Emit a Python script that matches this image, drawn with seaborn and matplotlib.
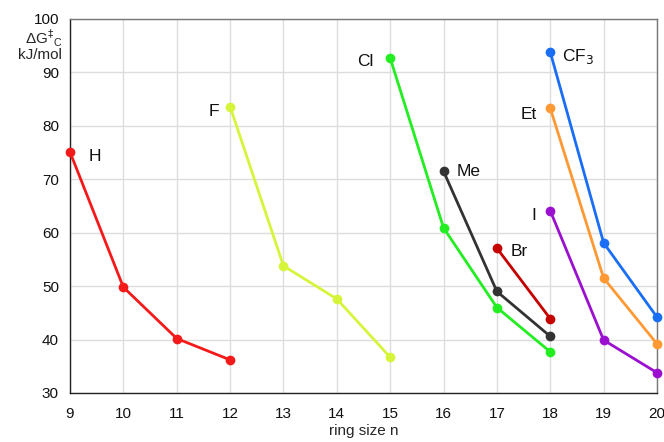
import numpy as np
import pandas as pd
import matplotlib
matplotlib.use("Agg")
import matplotlib.pyplot as plt
import seaborn as sns

# ring size n vs. dG‡c (kJ/mol), one list per substituent
subst = ['H', 'F', 'Cl', 'Me', 'Br', 'CF$_3$', 'Et', 'I']
ring_H = [9, 10, 11, 12]
dg_H = [75.1, 49.8, 40.2, 36.2]
ring_F = [12, 13, 14, 15]
dg_F = [83.6, 53.8, 47.6, 36.7]
ring_Cl = [15, 16, 17, 18]
dg_Cl = [92.7, 60.9, 46.0, 37.7]
ring_Me = [16, 17, 18]
dg_Me = [71.5, 49.0, 40.6]
ring_Br = [17, 18]
dg_Br = [57.1, 43.9]
ring_CF3 = [18, 19, 20]
dg_CF3 = [93.8, 58.1, 44.2]
ring_Et = [18, 19, 20]
dg_Et = [83.3, 51.5, 39.2]
ring_I = [18, 19, 20]
dg_I = [64.1, 39.9, 33.8]

colors = ['#f51a1a', '#d6f53a', '#22ee22', '#333333', '#c40000',
          '#1a6ef5', '#ff9933', '#9b0fcf']

# label anchors (data coords) and alignment
label_pos = [(9.35, 74.3, 'left'), (11.8, 82.6, 'right'), (14.68, 92.0, 'right'),
             (16.25, 71.4, 'left'), (17.25, 56.4, 'left'), (18.22, 92.9, 'left'),
             (17.74, 82.2, 'right'), (17.74, 63.3, 'right')]

rings = [ring_H, ring_F, ring_Cl, ring_Me, ring_Br, ring_CF3, ring_Et, ring_I]
dgs = [dg_H, dg_F, dg_Cl, dg_Me, dg_Br, dg_CF3, dg_Et, dg_I]
df = pd.concat([pd.DataFrame({'n': r, 'dG': d, 'sub': s})
                for r, d, s in zip(rings, dgs, subst)], ignore_index=True)

sns.set_style("white")
plt.rcParams['font.family'] = ['Liberation Sans', 'DejaVu Sans']

fig = plt.figure(figsize=(6.64, 4.42), dpi=100)
ax = fig.add_axes([70 / 664, 1 - 393 / 442, 587 / 664, 374 / 442])

sns.lineplot(data=df, x='n', y='dG', hue='sub', palette=colors, marker='o',
             markersize=7, markeredgewidth=0, linewidth=2, legend=False,
             ax=ax, zorder=3)
for ln in ax.lines:
    ln.set_clip_on(False)

for (x, y, ha), s in zip(label_pos, subst):
    ax.text(x, y, s, fontsize=12.5, ha=ha, va='center', color='#111111')

ax.set_xlim(9, 20)
ax.set_ylim(30, 100)
ax.set_xticks(range(9, 21))
ax.set_yticks(range(30, 101, 10))
ax.grid(True, color='#dddddd', linewidth=1)
ax.tick_params(axis='both', length=0, labelsize=11, colors='#111111')
ax.tick_params(axis='x', pad=10)
ax.tick_params(axis='y', pad=8)
ax.set_xlabel('ring size n', fontsize=11, labelpad=2)
ax.set_ylabel('')
for side in ['top', 'right']:
    ax.spines[side].set_color('#777777')
for side in ['left', 'bottom']:
    ax.spines[side].set_color('#222222')
for sp in ax.spines.values():
    sp.set_linewidth(1)

fig.text(62 / 664, 1 - 38 / 442, 'ΔG$^{‡}$$_{\\mathregular{C}}$', fontsize=11,
         ha='right', va='center')
fig.text(62 / 664, 1 - 55 / 442, 'kJ/mol', fontsize=11, ha='right', va='center')

fig.savefig('out.png', dpi=100)
